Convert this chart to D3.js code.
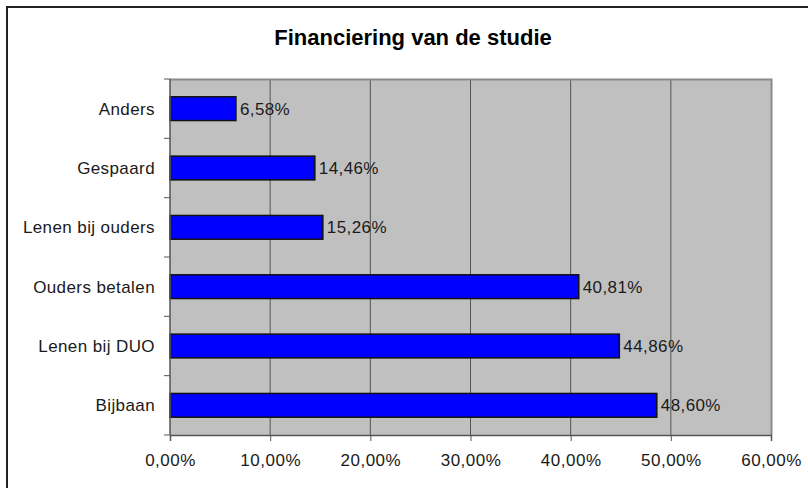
<!DOCTYPE html>
<html>
<head>
<meta charset="utf-8">
<script src="https://cdn.jsdelivr.net/npm/d3@7"></script>
<style>
  html, body { margin: 0; padding: 0; background: #fff; }
  svg { display: block; font-family: "Liberation Sans", Arial, sans-serif; }
</style>
</head>
<body>
<script>
// data (top = first)
const categories = ["Anders", "Gespaard", "Lenen bij ouders", "Ouders betalen", "Lenen bij DUO", "Bijbaan"];
const values = [6.58, 14.46, 15.26, 40.81, 44.86, 48.60];
const xTicks = [0, 10, 20, 30, 40, 50, 60];
const title = "Financiering van de studie";

const width = 808, height = 488;
const plot = { left: 170, right: 771, top: 79, bottom: 435 };

const fmt = v => v.toFixed(2).replace(".", ",") + "%";

const svg = d3.select("body").append("svg")
  .attr("width", width)
  .attr("height", height);

// outer chart border (runs off the right / bottom edge)
svg.append("rect")
  .attr("x", 7).attr("y", 7)
  .attr("width", 840).attr("height", 520)
  .attr("fill", "#fff")
  .attr("stroke", "#222")
  .attr("stroke-width", 2);

svg.append("text")
  .attr("x", 413).attr("y", 45)
  .attr("text-anchor", "middle")
  .style("font-size", "22px")
  .style("font-weight", "bold")
  .attr("fill", "#000")
  .text(title);

const x = d3.scaleLinear()
  .domain([0, 60])
  .range([plot.left, plot.right]);

const y = d3.scaleBand()
  .domain(categories)
  .range([plot.top, plot.bottom])
  .paddingInner(0.6)
  .paddingOuter(0.3);

// plot background
svg.append("rect")
  .attr("x", plot.left).attr("y", plot.top)
  .attr("width", plot.right - plot.left)
  .attr("height", plot.bottom - plot.top)
  .attr("fill", "#c0c0c0");

// gridlines
svg.append("g")
  .selectAll("line")
  .data(xTicks.slice(1, -1))
  .join("line")
  .attr("x1", d => x(d)).attr("x2", d => x(d))
  .attr("y1", plot.top).attr("y2", plot.bottom)
  .attr("stroke", "#555")
  .attr("stroke-width", 1);

// plot frame top/right
svg.append("path")
  .attr("d", `M${plot.left},${plot.top + 0.5}H${plot.right + 0.5}V${plot.bottom}`)
  .attr("fill", "none")
  .attr("stroke", "#8a8a8a")
  .attr("stroke-width", 2);

// bars
svg.append("g")
  .selectAll("rect")
  .data(values)
  .join("rect")
  .attr("x", x(0))
  .attr("y", (d, i) => y(categories[i]))
  .attr("width", d => x(d) - x(0))
  .attr("height", y.bandwidth())
  .attr("fill", "#0000ff")
  .attr("stroke", "#111")
  .attr("stroke-width", 1.5);

// value labels
svg.append("g")
  .selectAll("text")
  .data(values)
  .join("text")
  .attr("x", d => x(d) + 4)
  .attr("y", (d, i) => y(categories[i]) + y.bandwidth() / 2)
  .attr("dy", "0.36em")
  .style("font-size", "17px")
  .style("letter-spacing", "0.4px")
  .attr("fill", "#1a1a1a")
  .text(d => fmt(d));

// x axis
const xAxis = svg.append("g")
  .attr("transform", `translate(0,${plot.bottom})`)
  .call(d3.axisBottom(x).tickValues(xTicks).tickSize(6).tickPadding(13).tickFormat(d => fmt(d)));
xAxis.select(".domain").attr("stroke", "#555").attr("stroke-width", 1.5);
xAxis.selectAll(".tick line").attr("stroke", "#555");
xAxis.selectAll("text").style("font-size", "17px").style("letter-spacing", "0.5px").attr("fill", "#1a1a1a");

// y axis: ticks at band boundaries
const step = (plot.bottom - plot.top) / categories.length;
const yAxis = svg.append("g").attr("transform", `translate(${plot.left},0)`);
yAxis.append("line")
  .attr("x1", 0).attr("x2", 0)
  .attr("y1", plot.top).attr("y2", plot.bottom)
  .attr("stroke", "#555").attr("stroke-width", 1.5);
yAxis.selectAll("line.tk")
  .data(d3.range(categories.length + 1))
  .join("line")
  .attr("class", "tk")
  .attr("x1", -6).attr("x2", 0)
  .attr("y1", i => plot.top + i * step)
  .attr("y2", i => plot.top + i * step)
  .attr("stroke", "#555");
yAxis.selectAll("text")
  .data(categories)
  .join("text")
  .attr("x", -15)
  .attr("y", d => y(d) + y.bandwidth() / 2)
  .attr("dy", "0.36em")
  .attr("text-anchor", "end")
  .style("font-size", "17px")
  .style("letter-spacing", "0.4px")
  .attr("fill", "#1a1a1a")
  .text(d => d);
</script>
</body>
</html>
